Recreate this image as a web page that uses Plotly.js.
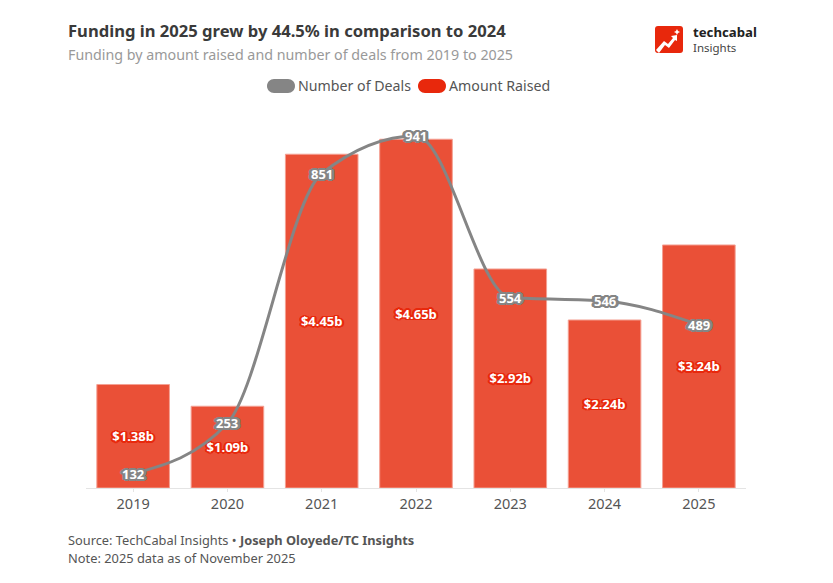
<!DOCTYPE html>
<html><head><meta charset="utf-8">
<script src="https://cdn.plot.ly/plotly-3.0.1.min.js"></script>
<style>html,body{margin:0;padding:0;background:#fff}</style></head>
<body><div id="chart" style="width:833px;height:583px"></div>
<script>
const years = ['2019','2020','2021','2022','2023','2024','2025'];
const amountRaised = [1.38,1.09,4.45,4.65,2.92,2.24,3.24];
const amountLabels = ['$1.38b','$1.09b','$4.45b','$4.65b','$2.92b','$2.24b','$3.24b'];
const deals = [132,253,851,941,554,546,489];

const FONT = '"Noto Sans", sans-serif';
const W = 833, H = 583;
const M = {l:86, r:87, t:100, b:95};
const PW = W - M.l - M.r, PH = H - M.t - M.b;
// page pixels -> paper fractions of the plot area
const px = v => (v - M.l) / PW, py = v => (H - M.b - v) / PH;

function halo(c, r) {
  const out = [];
  for (let a = 0; a < 16; a++) {
    const t = a * Math.PI / 8;
    out.push((r * 1.2 * Math.cos(t)).toFixed(1) + 'px ' + (r * 0.85 * Math.sin(t)).toFixed(1) + 'px 0 ' + c);
  }
  return out.join(',');
}
function paperPath(d) {
  return d.replace(/(-?[\d.]+),(-?[\d.]+)/g, (m, a, b) => px(+a).toFixed(5) + ',' + py(+b).toFixed(5));
}
function pill(x0, y0, x1, y1) {
  const r = (y1 - y0) / 2, k = r * 0.55;
  return `M${x0 + r},${y0} L${x1 - r},${y0} C${x1 - r + k},${y0} ${x1},${y0 + r - k} ${x1},${y0 + r} C${x1},${y0 + r + k} ${x1 - r + k},${y1} ${x1 - r},${y1} L${x0 + r},${y1} C${x0 + r - k},${y1} ${x0},${y0 + r + k} ${x0},${y0 + r} C${x0},${y0 + r - k} ${x0 + r - k},${y0} ${x0 + r},${y0} Z`;
}
function pageShape(path, fill) {
  return {type:'path', xref:'paper', yref:'paper', path:paperPath(path), fillcolor:fill, line:{width:0}, layer:'above'};
}
// monotone cubic through the deal counts, in axis coordinates (category index, deals)
function monotonePath(v) {
  const s = v.slice(1).map((y, i) => y - v[i]);
  const m = v.map((_, i) => {
    if (i === 0 || i === v.length - 1) return null;
    const a = s[i - 1], b = s[i];
    return (Math.sign(a) + Math.sign(b)) * Math.min(Math.abs(a), Math.abs(b), 0.5 * Math.abs((a + b) / 2));
  });
  m[0] = (3 * s[0] - m[1]) / 2;
  m[v.length - 1] = (3 * s[s.length - 1] - m[v.length - 2]) / 2;
  let d = `M0,${v[0]}`;
  for (let i = 0; i < v.length - 1; i++) {
    d += ` C${(i + 1 / 3).toFixed(4)},${(v[i] + m[i] / 3).toFixed(3)} ${(i + 2 / 3).toFixed(4)},${(v[i + 1] - m[i + 1] / 3).toFixed(3)} ${i + 1},${v[i + 1]}`;
  }
  return d;
}

const traces = [
  {type:'bar', name:'Amount Raised', x:years, y:amountRaised, text:amountLabels,
   textposition:'inside', insidetextanchor:'middle', textangle:0, constraintext:'none',
   textfont:{family:FONT, size:13, color:'#fff', weight:700, shadow:halo('#e8280c',1.7)},
   marker:{color:'#EA5037', line:{color:'#F4A093', width:1}}, width:0.77,
   cliponaxis:false, hoverinfo:'skip', showlegend:false},
  {type:'scatter', mode:'markers', name:'Number of Deals', x:years, y:deals, yaxis:'y2',
   marker:{color:'#858585', size:3}, cliponaxis:false, hoverinfo:'skip', showlegend:false}
];

const plainNote = (text, X, Y, size, color) => ({text, xref:'paper', yref:'paper', x:px(X - 2), y:py(Y),
  xanchor:'left', yanchor:'middle', showarrow:false, font:{family:FONT, size, color}});

const layout = {
  width:W, height:H, paper_bgcolor:'#fff', plot_bgcolor:'#fff', showlegend:false,
  margin:M,
  font:{family:FONT, color:'#4a4a4a'},
  title:{text:'<b>Funding in 2025 grew by 44.5% in comparison to 2024</b>',
    x:68/W, xref:'container', xanchor:'left', y:1-31/H, yref:'container', yanchor:'middle',
    font:{family:FONT, size:16.6, color:'#3a3a3a'}},
  xaxis:{type:'category', categoryorder:'array', categoryarray:years, range:[-0.5,6.5], autorange:false,
    showgrid:false, zeroline:false,
    showline:true, linecolor:'#e4e4e4', linewidth:1, ticks:'outside', ticklen:3, tickcolor:'#e4e4e4',
    tickfont:{family:FONT, size:14.5, color:'#555'}, fixedrange:true},
  yaxis:{range:[0,5.173], autorange:false, visible:false, fixedrange:true},
  yaxis2:{range:[98,1027], autorange:false, overlaying:'y', side:'right', visible:false, fixedrange:true},
  annotations:[
    plainNote('Funding by amount raised and number of deals from 2019 to 2025', 68, 55, 14.28, '#999'),
    plainNote('Number of Deals', 298, 86, 14.2, '#555'),
    plainNote('Amount Raised', 449, 86, 14.2, '#555'),
    plainNote('Source: TechCabal Insights • <b>Joseph Oloyede/TC Insights</b>', 68, 540, 12.8, '#555'),
    plainNote('Note: 2025 data as of November 2025', 68, 558, 12.85, '#555'),
    plainNote('<b>techcabal</b>', 693, 32, 13.2, '#222'),
    plainNote('Insights', 693, 47, 11.5, '#444')
  ].concat(deals.map((d, i) => ({text:'<b>' + d + '</b>', xref:'x', yref:'y2', x:i, y:d,
    showarrow:false, xanchor:'center', yanchor:'middle',
    font:{family:FONT, size:13, color:'#fff', shadow:halo('#858585',2.4)}}))),
  shapes:[
    {type:'path', xref:'x', yref:'y2', path:monotonePath(deals), line:{color:'#858585', width:3}, fillcolor:'rgba(0,0,0,0)', layer:'above'},
    pageShape(pill(267,79,295,93), '#858585'),
    pageShape(pill(418,79,446,93), '#E8280C'),
    pageShape('M658,26 L680,26 Q683,26 683,29 L683,50 Q683,53 680,53 L658,53 Q655,53 655,50 L655,29 Q655,26 658,26 Z', '#E8280C'),
    pageShape('M656,50 L664,41 L668,44 L673,38 L671,36 L677,35 L677,41 L675,40 L669,48 L665,45 L659,53 Z', '#fff'),
    pageShape('M677,29 L678,31 L680,32 L678,33 L677,35 L676,33 L674,32 L676,31 Z', '#fff')
  ]
};
Plotly.newPlot('chart', traces, layout, {displayModeBar:false, staticPlot:true});
</script></body></html>
